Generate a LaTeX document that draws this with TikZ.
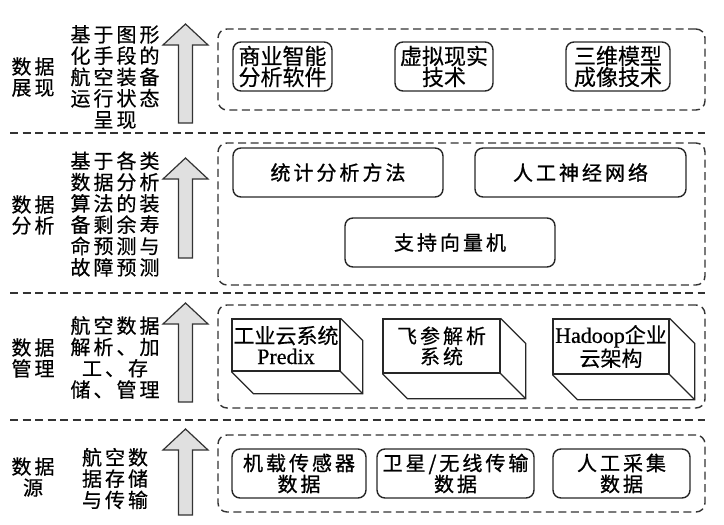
\documentclass[tikz,border=0pt]{standalone}
\usepackage{fontspec}
\newfontfamily\cjk{Noto Sans CJK SC}[FakeBold=0.4]
\newfontfamily\cjksp{Noto Sans CJK SC}[LetterSpace=15,FakeBold=0.5]
\newfontfamily\cjkbsp{Noto Sans CJK SC}[LetterSpace=15,FakeBold=1]
\newfontfamily\lserif{Liberation Serif}[FakeBold=0.6]
\newcommand\UpArr[3]{\draw[bigarrow] (#1-7,#3) -- (#1-7,#2+21) -- (#1-22.5,#2+21) -- (#1,#2) -- (#1+22.5,#2+21) -- (#1+7,#2+21) -- (#1+7,#3) -- cycle;}
\newcommand\CubeSides[2]{\draw[cubeline] (#1.north east) -- ++(#2,#2) |- ([shift={(#2,#2)}]#1.south west) -- (#1.south west);
  \draw[cubeline] (#1.south east) -- ++(#2,#2);}
\begin{document}
\begin{tikzpicture}[x=1pt,y=-1pt,
  sep/.style={draw=black!80, line width=1.4pt, dash pattern=on 8pt off 4.5pt},
  layer/.style={draw=black!80, line width=1.4pt, dash pattern=on 8pt off 4.5pt, rounded corners=9pt, minimum width=487pt, inner sep=0pt},
  rbox/.style={draw=black!85, line width=1.4pt, rounded corners=8pt, inner sep=0pt, align=center},
  cube/.style={draw=black!85, line width=1.3pt, inner sep=0pt, align=center, font=\cjk\fontsize{21}{20.5}\selectfont},
  cubeline/.style={draw=black!85, line width=1.3pt, line join=miter},
  bigarrow/.style={draw=black!80, fill=black!12, line width=1.2pt, line join=miter},
  lbl/.style={align=center, inner sep=0pt, font=\cjksp\fontsize{20}{21}\selectfont},
  desc/.style={align=center, inner sep=0pt, font=\cjksp\fontsize{20}{21.3}\selectfont},
  toptxt/.style={font=\cjk\fontsize{22}{21}\selectfont},
  midtxt/.style={font=\cjkbsp\fontsize{20}{21}\selectfont},
  bottxt/.style={font=\cjkbsp\fontsize{20}{21}\selectfont}]
\useasboundingbox (0,0) rectangle (724,525);

% separators
\draw[sep] (10,133) -- (705,133);
\draw[sep] (10,293) -- (705,293);
\draw[sep] (10,420) -- (705,420);

% layer frames
\node[layer, minimum height=81pt] (L1) at (461.5,69.5) {};
\node[layer, minimum height=142pt] (L2) at (461.5,214) {};
\node[layer, minimum height=103pt] (L3) at (461.5,356.5) {};
\node[layer, minimum height=77pt] (L4) at (461.5,473.5) {};

% left labels
\node[lbl] (n1) at (33,77) {数据\\展现};
\node[lbl] (n2) at (33,215) {数据\\分析};
\node[lbl] (n3) at (33,358) {数据\\管理};
\node[lbl] (n4) at (33,477) {数据\\源};

% descriptions
\node[desc] (d1) at (115,77) {基于图形\\化手段的\\航空装备\\运行状态\\呈现};
\node[desc] (d2) at (115,214) {基于各类\\数据分析\\算法的装\\备剩余寿\\命预测与\\故障预测};
\node[desc] (d3) at (115,357.5) {航空数据\\解析、加\\工、存\\储、管理};
\node[desc] (d4) at (115,478.5) {航空数\\据存储\\与传输};

% arrows
\UpArr{185.5}{24}{123}
\UpArr{185.5}{158}{258}
\UpArr{185.5}{303}{402}
\UpArr{185.5}{429}{515}

% layer 1
\node[rbox, toptxt, minimum width=99pt, minimum height=49pt] (b11) at (282.5,66.5) {商业智能\\分析软件};
\node[rbox, toptxt, minimum width=98pt, minimum height=49pt] (b12) at (444,66.5) {虚拟现实\\技术};
\node[rbox, toptxt, minimum width=104pt, minimum height=49pt] (b13) at (618,66.5) {三维模型\\成像技术};

% layer 2
\node[rbox, midtxt, minimum width=210pt, minimum height=49pt] (b21) at (338,172.5) {统计分析方法};
\node[rbox, midtxt, minimum width=211pt, minimum height=49pt] (b22) at (580.5,172.5) {人工神经网络};
\node[rbox, midtxt, minimum width=210pt, minimum height=49pt] (b23) at (450,242.5) {支持向量机};

% layer 3 (3D boxes)
\node[cube, minimum width=108pt, minimum height=52pt] (c1) at (286,345) {工业云系统\\{\lserif\fontsize{22}{20.5}\selectfont Predix}};
\node[cube, minimum width=117pt, minimum height=54pt, font=\cjksp\fontsize{20}{20.5}\selectfont] (c2) at (441.5,346) {飞参解析\\系统};
\node[cube, minimum width=116pt, minimum height=55pt] (c3) at (611,346.5) {{\lserif\fontsize{22}{20.5}\selectfont Hadoop}企业\\云架构};
\CubeSides{c1}{22}
\CubeSides{c2}{25}
\CubeSides{c3}{25}

% layer 4
\node[rbox, bottxt, minimum width=134pt, minimum height=49pt] (e1) at (299,473.5) {机载传感器\\数据};
\node[rbox, bottxt, minimum width=157pt, minimum height=49pt] (e2) at (455.5,473.5) {卫星/无线传输\\数据};
\node[rbox, bottxt, minimum width=137pt, minimum height=49pt] (e3) at (621.5,473.5) {人工采集\\数据};
\end{tikzpicture}
\end{document}
